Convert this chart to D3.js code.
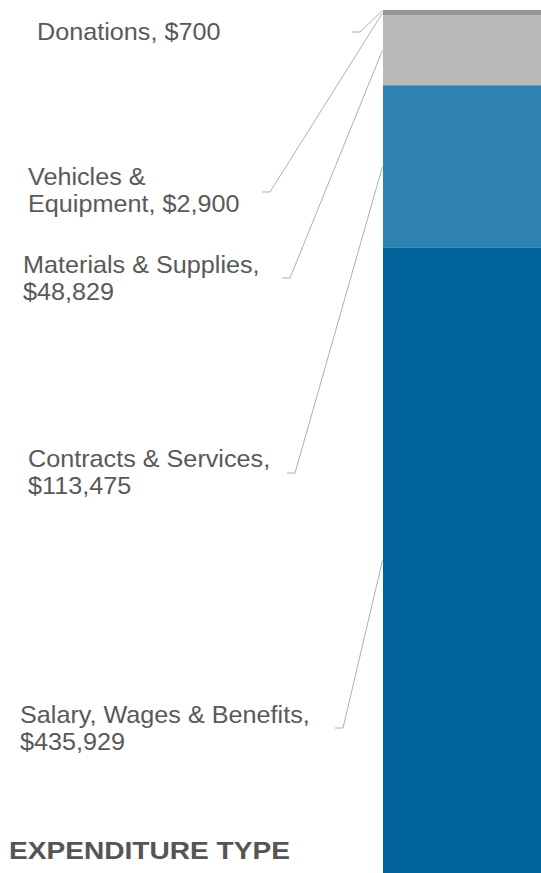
<!DOCTYPE html>
<html>
<head>
<meta charset="utf-8">
<script src="https://cdn.jsdelivr.net/npm/d3@7"></script>
<style>
  body { margin: 0; background: #fff; }
  svg { display: block; }
  .label { font-family: "Liberation Sans", Arial, sans-serif; font-size: 24px; fill: #595959; }
  .title { font-family: "Liberation Sans", Arial, sans-serif; font-size: 23px; font-weight: bold; fill: #555; }
  .leader { fill: none; stroke: #b0b0b0; stroke-width: 1; }
</style>
</head>
<body>
<script>
// expenditure categories, bottom of the bar first
var categories = ["Salary, Wages & Benefits", "Contracts & Services", "Materials & Supplies", "Vehicles & Equipment", "Donations"];
var values = [435929, 113475, 48829, 2900, 700];
var colors = ["#00649b", "#2f82b1", "#b8b8b8", "#959595", "#959595"];
// where each label's text is split into two lines (null = single line)
var firstLines = ["Salary, Wages & Benefits,", "Contracts & Services,", "Materials & Supplies,", "Vehicles &", null];

var width = 541, height = 873;
var margin = { top: 10, bottom: 0 };

// label layout: text position and the small tick before the leader
var labelPos = [
  { x: 20, y: 723, tx: 335, ty: 728 },
  { x: 28, y: 467, tx: 287, ty: 473 },
  { x: 23, y: 273, tx: 282, ty: 278 },
  { x: 28, y: 185, tx: 262, ty: 192 },
  { x: 37, y: 40, tx: 352, ty: 32 }
];

var fmt = d3.format(",");

var data = categories.map(function (c, i) {
  return { name: c, value: values[i], color: colors[i], first: firstLines[i], pos: labelPos[i] };
});

var total = d3.sum(values);
var cum = 0;
data.forEach(function (d) { d.y0 = cum; cum += d.value; d.y1 = cum; });

var svg = d3.select("body").append("svg")
  .attr("width", width)
  .attr("height", height);

var yScale = d3.scaleLinear()
  .domain([0, total])
  .range([height - margin.bottom, margin.top]);

var xScale = d3.scaleBand()
  .domain(["Expenditure"])
  .range([383, width])
  .padding(0);

// stacked bar
svg.selectAll(".bar")
  .data(data)
  .enter().append("rect")
  .attr("class", "bar")
  .attr("x", xScale("Expenditure"))
  .attr("width", xScale.bandwidth())
  .attr("y", function (d) { return yScale(d.y1); })
  .attr("height", function (d) { return yScale(d.y0) - yScale(d.y1); })
  .attr("fill", function (d) { return d.color; });

// leader lines
svg.selectAll(".leader")
  .data(data)
  .enter().append("path")
  .attr("class", "leader")
  .attr("d", function (d) {
    var p = d.pos;
    var mid = yScale((d.y0 + d.y1) / 2);
    return "M" + p.tx + "," + p.ty + "H" + (p.tx + 8) + "L" + (xScale("Expenditure") - 0.5) + "," + mid;
  });

// labels (slightly widened like the original)
var labels = svg.selectAll(".label")
  .data(data)
  .enter().append("text")
  .attr("class", "label")
  .attr("transform", function (d) { return "translate(" + d.pos.x + "," + d.pos.y + ") scale(1.05,1)"; });

labels.each(function (d) {
  var full = d.name + ", $" + fmt(d.value);
  var t = d3.select(this);
  if (d.first) {
    t.append("tspan").attr("x", 0).text(d.first);
    t.append("tspan").attr("x", 0).attr("dy", 27).text(full.slice(d.first.length).trim());
  } else {
    t.text(full);
  }
});

svg.append("text")
  .attr("class", "title")
  .attr("x", 9)
  .attr("y", 859)
  .attr("textLength", 281)
  .attr("lengthAdjust", "spacingAndGlyphs")
  .text("EXPENDITURE TYPE");
</script>
</body>
</html>
